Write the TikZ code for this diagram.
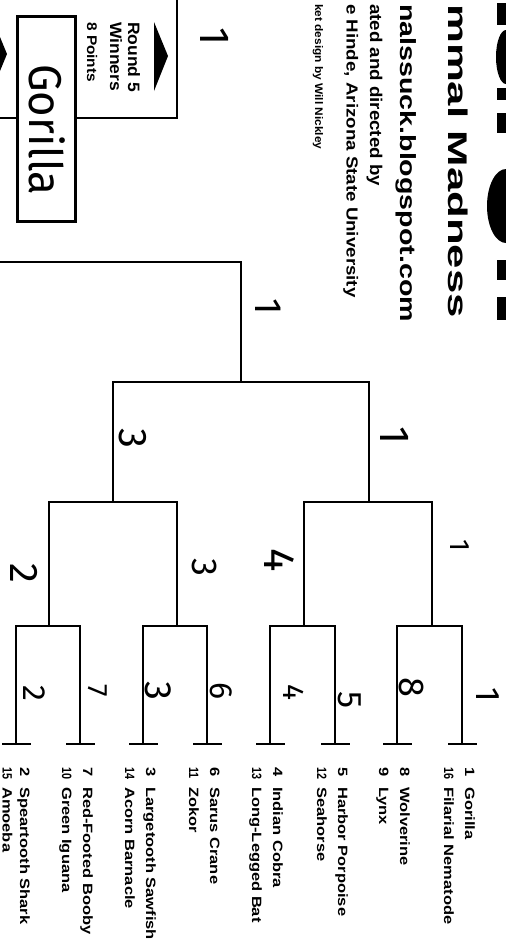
\documentclass[tikz,border=0pt]{standalone}
\usepackage{fontspec}
\setmainfont{Liberation Sans}
\newfontfamily\handfont{Fira Sans}
\newcommand\tname[1]{\scalebox{1.22}[1]{#1}}
\newcommand\sdone[1]{\scalebox{1.22}[1]{#1}}
\newcommand\sdtwo[1]{\scalebox{0.8}[1]{#1}}
\begin{document}
\begin{tikzpicture}[x=1pt,y=-1pt,
  br/.style={line width=2pt, line join=miter},
  tick/.style={line width=2.7pt},
  team/.style={rotate=-90, anchor=base west, inner sep=0pt, font=\fontsize{13.5}{14}\selectfont\bfseries},
  lbl/.style={rotate=-90, anchor=base west, inner sep=0pt},
  hand/.style={rotate=-90, anchor=center, inner sep=0pt}]
\useasboundingbox (0,0) rectangle (506,951);
\fill[white] (0,0) rectangle (506,951);
\clip (0,0) rectangle (506,951);

% ---------- bracket coordinates ----------
\foreach \n/\x in {1/462,2/397,3/335,4/270,5/207,6/143,7/80,8/16}{
  \coordinate (b\n) at (\x,744);
  \coordinate (u\n) at (\x,626);
}
\coordinate (p1) at (432,626); \coordinate (q1) at (432,502);
\coordinate (p2) at (304,626); \coordinate (q2) at (304,502);
\coordinate (p3) at (177,626); \coordinate (q3) at (177,502);
\coordinate (p4) at (49,626);  \coordinate (q4) at (49,502);
\coordinate (s1) at (369,502); \coordinate (v1) at (369,382);
\coordinate (s2) at (113,502); \coordinate (v2) at (113,382);
\coordinate (w1) at (241,382); \coordinate (w2) at (241,262);
\coordinate (w3) at (-5,262);
\coordinate (k1) at (-5,118); \coordinate (k2) at (177,118);
\coordinate (k3) at (177,-5);

% round 1
\draw[br] (b1) -- (u1) -- (u2) -- (b2);
\draw[br] (b3) -- (u3) -- (u4) -- (b4);
\draw[br] (b5) -- (u5) -- (u6) -- (b6);
\draw[br] (b7) -- (u7) -- (u8) -- (b8);
\foreach \n in {1,...,8}{\draw[tick] ([xshift=-14pt]b\n) -- ([xshift=15pt]b\n);}
% round 2
\draw[br] (p1) -- (q1) -- (q2) -- (p2);
\draw[br] (p3) -- (q3) -- (q4) -- (p4);
% round 3
\draw[br] (s1) -- (v1) -- (v2) -- (s2);
% round 4
\draw[br] (w1) -- (w2) -- (w3);
% winners frame
\draw[br] (k1) -- (k2) -- (k3);

% arrows
\fill (154,22) -- (154,91) -- (168,56) -- cycle;
\fill (-7,20) -- (-7,88) -- (7,54) -- cycle;

% winner box
\node[draw, line width=3pt, fill=white, minimum width=58pt, minimum height=205pt, inner sep=0pt] (gbox) at (46.5,119) {};
\node[hand, font=\handfont\fontsize{46}{46}\selectfont] (gname) at (47,130) {\scalebox{0.95}[1]{Gorilla}};

% Round 5 label
\node[lbl, font=\fontsize{16.5}{17}\selectfont\bfseries] (r5a) at (128,22) {\scalebox{1.06}[1]{Round 5}};
\node[lbl, font=\fontsize{16.5}{17}\selectfont\bfseries] (r5b) at (110,22) {\scalebox{1.06}[1]{Winners}};
\node[lbl, font=\fontsize{14}{14}\selectfont\bfseries] (r5c) at (87,22) {\scalebox{1.1}[1]{8 Points}};

% title block (cut off at the top edge in the source)
\node[lbl, font=\fontsize{27}{27}\selectfont\bfseries] (t1) at (448,4) {\scalebox{1.62}[1]{mmal Madness}};
\node[lbl, font=\fontsize{22}{22}\selectfont\bfseries] (t2) at (400,4) {\scalebox{1.30}[1]{nalssuck.blogspot.com}};
\node[lbl, font=\fontsize{17}{17}\selectfont\bfseries] (t3) at (370,4) {\scalebox{1.10}[1]{ated and directed by}};
\node[lbl, font=\fontsize{16}{16}\selectfont\bfseries] (t4) at (346.5,4) {\scalebox{1.17}[1]{e Hinde, Arizona State University}};
\node[lbl, font=\fontsize{11}{11}\selectfont\bfseries] (t5) at (315,4) {\scalebox{1.08}[1]{ket design by Will Nickley}};

% big title fragments at the right edge
\fill (497,3) rectangle (510,25);
\fill (506,57) ellipse [x radius=10, y radius=27];
\fill (497,88) rectangle (510,100);
\fill (497,113) rectangle (510,133);
\fill (506,206) ellipse [x radius=19, y radius=37];
\fill (497,260) rectangle (510,280);
\fill (497,297) rectangle (510,320);

% teams
\node[team] (sa1) at (465,767) {\sdone{1}};  \node[team] (na1) at (465,787) {\tname{Gorilla}};
\node[team] (sb1) at (444,767) {\sdtwo{16}}; \node[team] (nb1) at (444,787) {\tname{Filarial Nematode}};
\node[team] (sa2) at (400,767) {\sdone{8}};  \node[team] (na2) at (400,787) {\tname{Wolverine}};
\node[team] (sb2) at (379,767) {\sdone{9}};  \node[team] (nb2) at (379,787) {\tname{Lynx}};
\node[team] (sa3) at (338,767) {\sdone{5}};  \node[team] (na3) at (338,787) {\tname{Harbor Porpoise}};
\node[team] (sb3) at (317,767) {\sdtwo{12}}; \node[team] (nb3) at (317,787) {\tname{Seahorse}};
\node[team] (sa4) at (273,767) {\sdone{4}};  \node[team] (na4) at (273,787) {\tname{Indian Cobra}};
\node[team] (sb4) at (252,767) {\sdtwo{13}}; \node[team] (nb4) at (252,787) {\tname{Long-Legged Bat}};
\node[team] (sa5) at (210,767) {\sdone{6}};  \node[team] (na5) at (210,787) {\tname{Sarus Crane}};
\node[team] (sb5) at (189,767) {\sdtwo{11}}; \node[team] (nb5) at (189,787) {\tname{Zokor}};
\node[team] (sa6) at (146,767) {\sdone{3}};  \node[team] (na6) at (146,787) {\tname{Largetooth Sawfish}};
\node[team] (sb6) at (125,767) {\sdtwo{14}}; \node[team] (nb6) at (125,787) {\tname{Acorn Barnacle}};
\node[team] (sa7) at (83,767) {\sdone{7}};   \node[team] (na7) at (83,787) {\tname{Red-Footed Booby}};
\node[team] (sb7) at (62,767) {\sdtwo{10}};  \node[team] (nb7) at (62,787) {\tname{Green Iguana}};
\node[team] (sa8) at (20,767) {\sdone{2}};   \node[team] (na8) at (20,787) {\tname{Speartooth Shark}};
\node[team] (sb8) at (2.5,767) {\sdtwo{15}};  \node[team] (nb8) at (2.5,787) {\tname{Amoeba}};

% handwritten picks
\node[hand, font=\handfont\fontsize{34}{34}\selectfont] (h1) at (488,695) {1};
\node[hand, font=\handfont\fontsize{36}{36}\selectfont] (h2) at (412,687) {8};
\node[hand, font=\handfont\fontsize{34}{34}\selectfont] (h3) at (350,700) {5};
\node[hand, font=\handfont\fontsize{30}{30}\selectfont] (h4) at (294,692) {4};
\node[hand, font=\handfont\fontsize{32}{32}\selectfont] (h5) at (221,691) {6};
\node[hand, font=\handfont\fontsize{38}{38}\selectfont] (h6) at (158,691) {3};
\node[hand, font=\handfont\fontsize{28}{28}\selectfont] (h7) at (98,691) {7};
\node[hand, font=\handfont\fontsize{32}{32}\selectfont] (h8) at (34,693) {2};
\node[hand, font=\handfont\fontsize{28}{28}\selectfont] (h9) at (460,546) {1};
\node[hand, font=\handfont\fontsize{44}{44}\selectfont] (h10) at (279,560) {4};
\node[hand, font=\handfont\fontsize{36}{36}\selectfont] (h11) at (205,567) {3};
\node[hand, font=\handfont\fontsize{40}{40}\selectfont] (h12) at (24,573) {2};
\node[hand, font=\handfont\fontsize{42}{42}\selectfont] (h13) at (395,436) {1};
\node[hand, font=\handfont\fontsize{40}{40}\selectfont] (h14) at (133,438) {3};
\node[hand, font=\handfont\fontsize{38}{38}\selectfont] (h15) at (268,307) {1};
\node[hand, font=\handfont\fontsize{42}{42}\selectfont] (h16) at (215,37) {1};
\end{tikzpicture}
\end{document}
